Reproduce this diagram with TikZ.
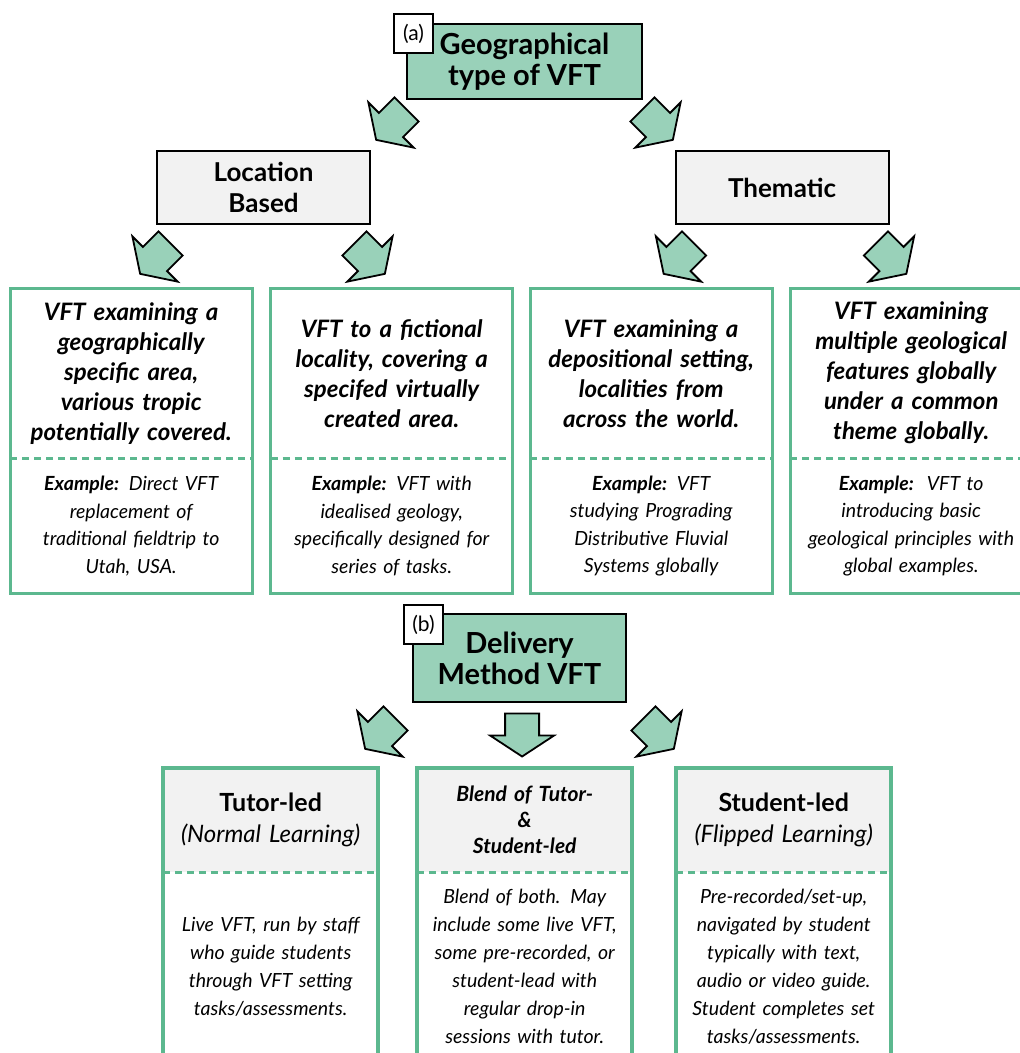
\documentclass[tikz,border=0pt]{standalone}
\usepackage{fontspec}
\setmainfont{Lato}
\usetikzlibrary{positioning, calc}
\definecolor{MintFill}{HTML}{99D1B9}
\definecolor{FrameGreen}{HTML}{5CB88F}
\definecolor{PaleGrey}{HTML}{F2F2F2}
\newcommand{\exlabel}[1]{\textbf{#1}}

\tikzset{
  headbox/.style={draw=black, line width=2pt, fill=MintFill, align=center,
                  inner sep=0pt, font=\bfseries\fontsize{29}{31}\selectfont},
  tagbox/.style={draw=black, line width=1.5pt, fill=white, minimum size=39pt,
                 inner sep=0pt, font=\fontsize{21}{24}\selectfont},
  typebox/.style={draw=black, line width=2pt, fill=PaleGrey, align=center,
                  minimum width=213pt, minimum height=73pt, inner sep=0pt,
                  font=\bfseries\fontsize{26}{31}\selectfont},
  uptext/.style={text width=228pt, inner xsep=7pt, inner ysep=0pt, align=center,
                 minimum height=170pt, font=\bfseries\itshape\fontsize{24}{30}\selectfont},
  lowtext/.style={text width=228pt, inner xsep=7pt, inner ysep=0pt, align=center,
                  minimum height=135pt, font=\itshape\fontsize{19.5}{27.5}\selectfont},
  modehead/.style={text width=200pt, inner xsep=7.5pt, inner ysep=0pt, align=center,
                   minimum height=104pt, fill=PaleGrey, font=\fontsize{24}{31}\selectfont},
  modetext/.style={text width=200pt, inner xsep=7.5pt, inner ysep=0pt, align=center,
                   minimum height=188pt, font=\itshape\fontsize{19.5}{28}\selectfont},
  frame/.style={draw=FrameGreen, line width=3pt},
  divider/.style={draw=FrameGreen, line width=3pt, dash pattern=on 7pt off 5pt},
  pics/fatarrow/.style={code={
    \draw[fill=MintFill, line width=1.8pt, line join=miter]
      (-17,-22) -- (17,-22) -- (17,0) -- (32,0) -- (0,21) -- (-32,0) -- (-17,0) -- cycle;
  }}
}

\begin{document}
\begin{tikzpicture}[x=1pt, y=-1pt]
\useasboundingbox (0,0) rectangle (1020,1053);
\clip (0,0) rectangle (1020,1053);

% (a) geographical type
\node[headbox, minimum width=235pt, minimum height=75pt] (geo) at (524.5,61.5)
  {Geographical\\type of VFT};
\node[tagbox] (taga) at (413.5,33.5) {(a)};

\node[typebox] (loc) at (263.5,187.5) {Location\\Based};
\node[typebox] (them) at (782,187.5) {Thematic};

\pic[rotate=-45] at ([shift={(-15,25)}]geo.south west) {fatarrow};
\pic[rotate=45] at ([shift={(15,25)}]geo.south east) {fatarrow};
\pic[rotate=-45] at ([shift={(-1,34)}]loc.south west) {fatarrow};
\pic[rotate=45] at ([shift={(-1,34)}]loc.south east) {fatarrow};
\pic[rotate=-45] at ([shift={(4,34)}]them.south west) {fatarrow};
\pic[rotate=45] at ([shift={(2,34)}]them.south east) {fatarrow};

\node[uptext, anchor=north west] (up1) at (10,288)
  {VFT examining a\\geographically\\specific area,\\various tropic\\potentially covered.};
\node[lowtext, below=0pt of up1] (lo1)
  {\exlabel{Example:} Direct VFT\\replacement of\\traditional fieldtrip to\\Utah, USA.};

\node[uptext, anchor=north west] (up2) at (270.5,288)
  {VFT to a fictional\\locality, covering a\\specifed virtually\\created area.};
\node[lowtext, below=0pt of up2] (lo2)
  {\exlabel{Example:} VFT with\\idealised geology,\\specifically designed for\\series of tasks.};

\node[uptext, anchor=north west] (up3) at (530,288)
  {VFT examining a\\depositional setting,\\localities from\\across the world.};
\node[lowtext, below=0pt of up3] (lo3)
  {\exlabel{Example:} VFT\\studying Prograding\\Distributive Fluvial\\Systems globally};

\node[uptext, anchor=north west] (up4) at (790,288)
  {VFT examining\\multiple geological\\features globally\\under a common\\theme globally.};
\node[lowtext, below=0pt of up4] (lo4)
  {\exlabel{Example:}\, VFT to\\introducing basic\\geological principles with\\global examples.};

\foreach \c in {1,2,3,4}{
  \draw[frame] (up\c.north west) rectangle (lo\c.south east);
  \draw[divider] (up\c.south west) -- (up\c.south east);
}

% (b) delivery method
\node[headbox, minimum width=213pt, minimum height=88pt] (del) at (519.5,658)
  {Delivery\\Method VFT};
\node[tagbox] (tagb) at (423.5,624.5) {(b)};

\node[modehead, anchor=north west] (tutor) at (163,768)
  {\textbf{\fontsize{25}{31}\selectfont Tutor-led}\\\textit{(Normal Learning)}};
\node[modetext, below=0pt of tutor] (tutortxt)
  {Live VFT, run by staff\\who guide students\\through VFT setting\\tasks/assessments.};

\node[modehead, anchor=north west, font=\bfseries\itshape\fontsize{21}{26}\selectfont] (blend) at (417,768)
  {Blend of Tutor-\\\&\\Student-led};
\node[modetext, below=0pt of blend] (blendtxt)
  {Blend of both. May\\include some live VFT,\\some pre-recorded, or\\student-lead with\\regular drop-in\\sessions with tutor.};

\node[modehead, anchor=north west] (student) at (676,768)
  {\textbf{\fontsize{25}{31}\selectfont Student-led}\\\textit{(Flipped Learning)}};
\node[modetext, below=0pt of student] (studenttxt)
  {Pre-recorded/set-up,\\navigated by student\\typically with text,\\audio or video guide.\\Student completes set\\tasks/assessments.};

\pic[rotate=-45] at ([shift={(-32,31)}]del.south west) {fatarrow};
\pic at ($(del.south)!0.5!(blend.north)$) {fatarrow};
\pic[rotate=45] at ([shift={(32,31)}]del.south east) {fatarrow};

\foreach \m in {tutor,blend,student}{
  \draw[frame, line width=4pt] (\m.north west) rectangle (\m txt.south east);
  \draw[divider] (\m.south west) -- (\m.south east);
}
\end{tikzpicture}
\end{document}
